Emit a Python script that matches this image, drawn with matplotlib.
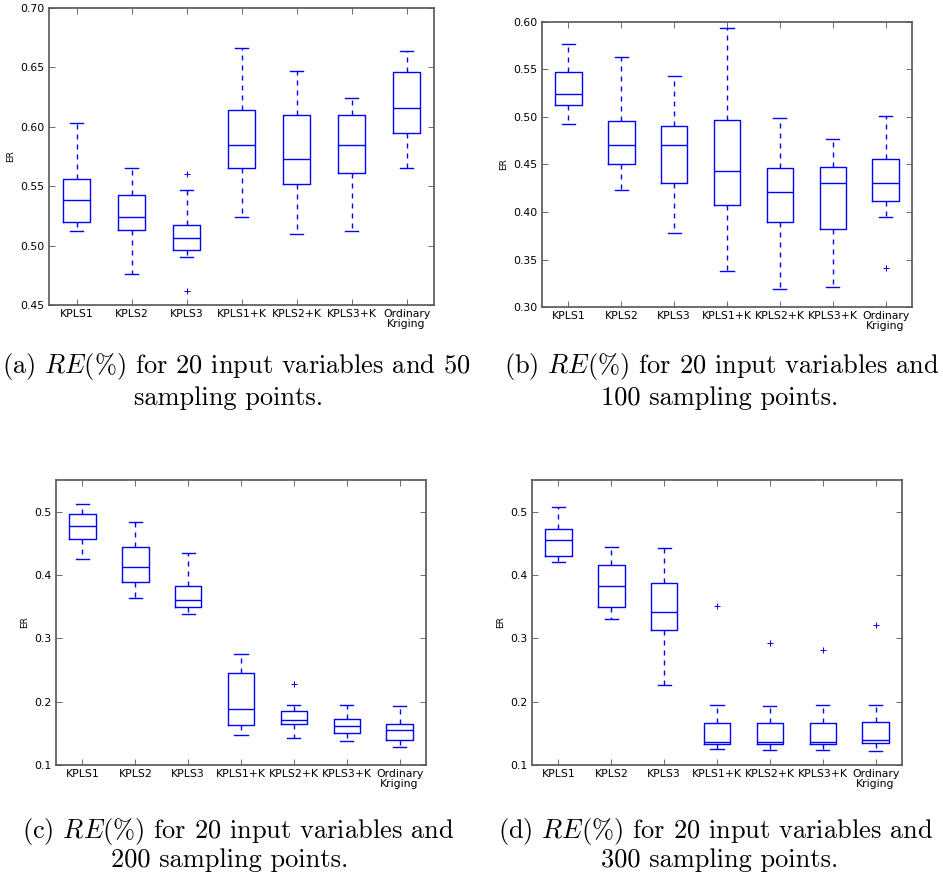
import matplotlib.pyplot as plt

plt.rcParams['mathtext.fontset'] = 'cm'

methods = ["KPLS1", "KPLS2", "KPLS3", "KPLS1+K", "KPLS2+K", "KPLS3+K", "Ordinary\nKriging"]

# box statistics per method: (whislo, q1, med, q3, whishi, fliers)
er_50 = [
    (0.512, 0.520, 0.538, 0.556, 0.603, []),
    (0.476, 0.513, 0.524, 0.543, 0.565, []),
    (0.490, 0.496, 0.506, 0.517, 0.547, [0.560, 0.462]),
    (0.524, 0.565, 0.585, 0.614, 0.666, []),
    (0.510, 0.552, 0.573, 0.610, 0.647, []),
    (0.512, 0.561, 0.585, 0.610, 0.624, []),
    (0.565, 0.595, 0.616, 0.646, 0.664, []),
]
er_100 = [
    (0.493, 0.513, 0.524, 0.547, 0.577, []),
    (0.423, 0.451, 0.471, 0.496, 0.563, []),
    (0.378, 0.431, 0.471, 0.490, 0.543, []),
    (0.338, 0.407, 0.443, 0.497, 0.594, []),
    (0.319, 0.389, 0.421, 0.446, 0.499, []),
    (0.321, 0.382, 0.431, 0.447, 0.477, []),
    (0.395, 0.412, 0.430, 0.456, 0.501, [0.341]),
]
er_200 = [
    (0.425, 0.457, 0.478, 0.496, 0.512, []),
    (0.363, 0.389, 0.413, 0.445, 0.484, []),
    (0.339, 0.349, 0.361, 0.383, 0.434, []),
    (0.147, 0.163, 0.188, 0.246, 0.275, []),
    (0.143, 0.164, 0.171, 0.186, 0.194, [0.228]),
    (0.138, 0.151, 0.161, 0.173, 0.195, []),
    (0.128, 0.140, 0.156, 0.165, 0.193, []),
]
er_300 = [
    (0.420, 0.430, 0.455, 0.472, 0.507, []),
    (0.330, 0.350, 0.382, 0.416, 0.445, []),
    (0.227, 0.313, 0.341, 0.387, 0.443, []),
    (0.125, 0.133, 0.137, 0.167, 0.194, [0.351]),
    (0.123, 0.133, 0.137, 0.167, 0.193, [0.292]),
    (0.124, 0.133, 0.137, 0.167, 0.194, [0.282]),
    (0.122, 0.134, 0.140, 0.168, 0.194, [0.321]),
]

captions = [
    (r"(a) $RE(\%)$ for 20 input variables and 50", "sampling points."),
    (r"(b) $RE(\%)$ for 20 input variables and", "100 sampling points."),
    (r"(c) $RE(\%)$ for 20 input variables and", "200 sampling points."),
    (r"(d) $RE(\%)$ for 20 input variables and", "300 sampling points."),
]

# axes box in pixels (left, right, top, bottom), caption centres and baselines
panels = [
    (er_50, (0.45, 0.70), [0.45, 0.50, 0.55, 0.60, 0.65, 0.70], "%.2f",
     [49, 434, 8, 305], (236, 229), (373, 405)),
    (er_100, (0.30, 0.60), [0.30, 0.35, 0.40, 0.45, 0.50, 0.55, 0.60], "%.2f",
     [542, 912, 22, 307], (722, 720), (373, 405)),
    (er_200, (0.10, 0.55), [0.1, 0.2, 0.3, 0.4, 0.5], "%.1f",
     [56, 426, 480, 765], (238, 230), (838, 867)),
    (er_300, (0.10, 0.55), [0.1, 0.2, 0.3, 0.4, 0.5], "%.1f",
     [532, 902, 480, 765], (716, 720), (838, 867)),
]

W, H = 943, 872
fig = plt.figure(figsize=(W / 100, H / 100), dpi=100)

blue = (0, 0, 1)
for (stats, ylim, yticks, fmt, (l, r, t, b), xs, ys), cap in zip(panels, captions):
    ax = fig.add_axes([l / W, 1 - b / H, (r - l) / W, (b - t) / H])
    bx = [dict(whislo=s[0], q1=s[1], med=s[2], q3=s[3], whishi=s[4], fliers=s[5])
          for s in stats]
    ax.bxp(bx, positions=range(1, len(bx) + 1), widths=0.5, capwidths=0.25,
           boxprops=dict(color=blue, lw=1.0),
           medianprops=dict(color=blue, lw=1.0),
           whiskerprops=dict(color=blue, lw=1.0, linestyle=(0, (3.6, 3.6))),
           capprops=dict(color=blue, lw=1.0),
           flierprops=dict(marker='+', markeredgecolor=blue, markersize=4,
                           markeredgewidth=0.7, linestyle='none'))
    ax.set_xlim(0.5, len(bx) + 0.5)
    ax.set_ylim(*ylim)
    ax.set_yticks(yticks)
    ax.set_yticklabels([fmt % v for v in yticks])
    ax.set_xticks(range(1, len(bx) + 1))
    ax.set_xticklabels(methods, fontsize=7.8, linespacing=1.0)
    ax.tick_params(direction='in', top=True, right=True, length=4,
                   width=0.6, color='#555555', labelsize=7.8, pad=3)
    ax.set_ylabel("ER", fontsize=6.5, labelpad=4)
    for sp in ax.spines.values():
        sp.set_color('#555555')
        sp.set_linewidth(1.2)

    for txt, x, y in zip(cap, xs, ys):
        fig.text(x / W, 1 - y / H, txt, ha='center', va='baseline',
                 fontsize=19, family='cmr10')

fig.savefig("out.png", dpi=100)
